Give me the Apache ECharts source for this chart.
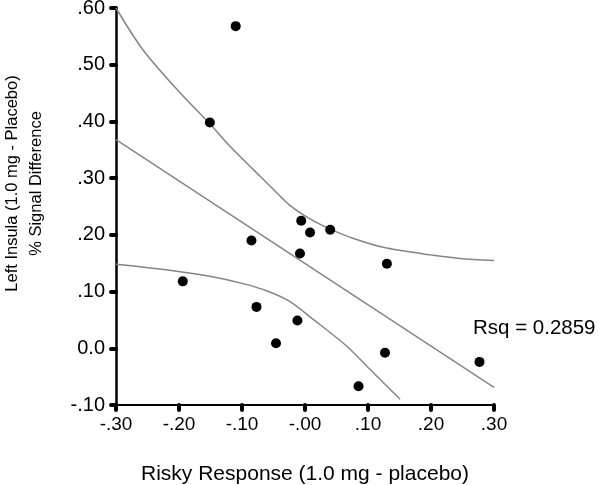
<!DOCTYPE html>
<html>
<head>
<meta charset="utf-8">
<script src="https://cdn.jsdelivr.net/npm/echarts@6/dist/echarts.min.js"></script>
<style>html,body{margin:0;padding:0;background:#fff}#c{width:600px;height:485px}</style>
</head>
<body>
<div id="c"></div>
<script>
// Scatter points: [risky response diff, left insula % signal diff]
const points = [
  [-0.110, 0.568], [-0.151, 0.398], [-0.085, 0.190], [-0.194, 0.118],
  [-0.077, 0.073], [-0.046, 0.009], [-0.012, 0.049], [-0.008, 0.167],
  [-0.006, 0.225], [0.008, 0.204], [0.040, 0.209], [0.130, 0.149],
  [0.127, -0.008], [0.085, -0.067], [0.277, -0.024]
];
// Fit line endpoints
const fitLine = [[-0.30, 0.368], [0.30, -0.069]];
// Upper 95% confidence band
const upperBand = [
  [-0.30, 0.600], [-0.257, 0.526], [-0.198, 0.450], [-0.151, 0.396],
  [-0.124, 0.362], [-0.082, 0.315], [-0.050, 0.280], [-0.024, 0.252],
  [0.008, 0.228], [0.040, 0.210], [0.071, 0.196], [0.124, 0.178],
  [0.204, 0.164], [0.246, 0.1585], [0.30, 0.155]
];
// Lower 95% confidence band
const lowerBand = [
  [-0.30, 0.148], [-0.204, 0.136], [-0.151, 0.127], [-0.098, 0.114],
  [-0.060, 0.101], [-0.025, 0.083], [0.013, 0.051],
  [0.066, 0.004], [0.103, -0.037], [0.151, -0.090]
];
const xTickLabels = {'-0.3':'-.30','-0.2':'-.20','-0.1':'-.10','0':'-.00','0.1':'.10','0.2':'.20','0.3':'.30'};
const yTickLabels = {'-0.1':'-.10','0':'0.0','0.1':'.10','0.2':'.20','0.3':'.30','0.4':'.40','0.5':'.50','0.6':'.60'};
const rsqText = 'Rsq = 0.2859';
const xName = 'Risky Response (1.0 mg - placebo)';
const yName = 'Left Insula (1.0 mg - Placebo)\n% Signal Difference';

function lbl(map, v) {
  const k = String(Math.round(v * 10) / 10);
  return map[k] !== undefined ? map[k] : '';
}

const chart = echarts.init(document.getElementById('c'), null, {renderer: 'canvas'});
const font = 'Arial, "Liberation Sans", sans-serif';
const bandStyle = {color: '#858585', width: 1.5};
chart.setOption({
  animation: false,
  backgroundColor: '#fff',
  title: {
    text: rsqText, left: 473, top: 318, padding: 0,
    textStyle: {fontFamily: font, fontSize: 20.5, fontWeight: 'normal', color: '#000'}
  },
  grid: {left: 116, right: 106, top: 8, bottom: 80, containLabel: false, outerBoundsMode: 'none'},
  xAxis: {
    type: 'value', min: -0.3, max: 0.3, interval: 0.1,
    name: xName, nameLocation: 'middle', nameGap: 59,
    nameTextStyle: {fontFamily: font, fontSize: 21, color: '#000'},
    axisLine: {onZero: false, lineStyle: {color: '#000', width: 2}},
    axisTick: {show: true, length: 5, lineStyle: {color: '#000', width: 4, cap: 'round'}},
    axisLabel: {fontFamily: font, fontSize: 19, color: '#000', margin: 10,
      formatter: v => lbl(xTickLabels, v)},
    splitLine: {show: false}
  },
  yAxis: {
    type: 'value', min: -0.1, max: 0.6, interval: 0.1,
    name: yName, nameLocation: 'middle', nameGap: 68, nameRotate: 90,
    nameTextStyle: {fontFamily: font, fontSize: 16.5, color: '#000', lineHeight: 24,
      padding: [0, 0, 0, 46]},
    axisLine: {onZero: false, lineStyle: {color: '#000', width: 2.5}},
    axisTick: {show: true, length: 5, lineStyle: {color: '#000', width: 4, cap: 'round'}},
    axisLabel: {fontFamily: font, fontSize: 20, color: '#000', margin: 11,
      formatter: v => lbl(yTickLabels, v)},
    splitLine: {show: false}
  },
  series: [
    {type: 'line', data: upperBand, symbol: 'none', smooth: 0.3, lineStyle: bandStyle, z: 2},
    {type: 'line', data: lowerBand, symbol: 'none', smooth: 0.3, lineStyle: bandStyle, z: 2},
    {type: 'line', data: fitLine, symbol: 'none', lineStyle: bandStyle, z: 2},
    {type: 'scatter', data: points, symbol: 'circle', symbolSize: 10,
      itemStyle: {color: '#000', opacity: 1}, z: 3}
  ]
});
</script>
</body>
</html>
